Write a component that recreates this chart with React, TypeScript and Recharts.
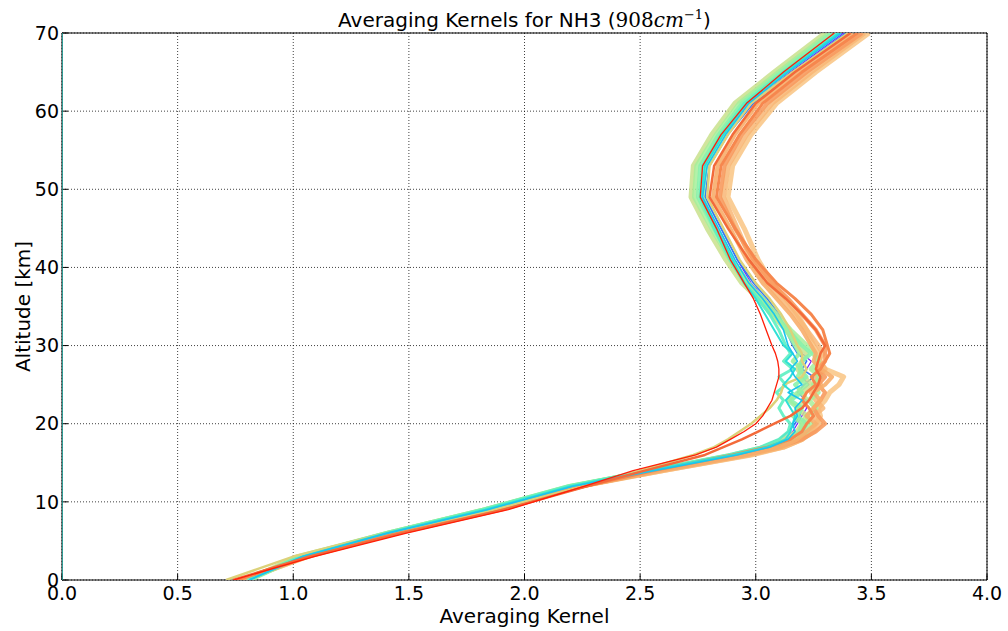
import React from 'react';
import { ScatterChart, Scatter, XAxis, YAxis, CartesianGrid, Label } from 'recharts';

// Altitude levels [km]
const ALT = [0, 3, 6, 9, 12, 14, 16, 17, 18, 19, 20, 21, 22, 23, 24, 25, 26, 27, 28, 29, 30, 32, 34, 36, 38, 41, 45, 49, 53, 57, 61, 65, 70];

const X_TICKS = [0, 0.5, 1, 1.5, 2, 2.5, 3, 3.5, 4];
const Y_TICKS = [0, 10, 20, 30, 40, 50, 60, 70];

// Averaging kernel values per altitude level (one array per kernel)
const kZero = [0, 0, 0, 0, 0, 0, 0, 0, 0, 0, 0, 0, 0, 0, 0, 0, 0, 0, 0, 0, 0, 0, 0, 0, 0, 0, 0, 0, 0, 0, 0, 0, 0];
const kPurple = [0.81, 1.05, 1.42, 1.85, 2.22, 2.56, 2.90, 3.04, 3.12, 3.16, 3.18, 3.20, 3.22, 3.21, 3.19, 3.23, 3.20, 3.22, 3.24, 3.20, 3.18, 3.14, 3.09, 3.04, 2.98, 2.92, 2.85, 2.78, 2.80, 2.88, 2.98, 3.15, 3.38];
const kBlue = [0.82, 1.05, 1.42, 1.84, 2.22, 2.55, 2.88, 3.02, 3.10, 3.14, 3.17, 3.19, 3.20, 3.22, 3.18, 3.21, 3.25, 3.20, 3.22, 3.18, 3.16, 3.13, 3.10, 3.05, 2.99, 2.92, 2.85, 2.78, 2.80, 2.88, 2.99, 3.16, 3.39];
const kCyan = [0.81, 1.04, 1.41, 1.84, 2.21, 2.56, 2.92, 3.06, 3.14, 3.17, 3.16, 3.18, 3.17, 3.20, 3.14, 3.20, 3.17, 3.15, 3.18, 3.16, 3.14, 3.12, 3.08, 3.03, 2.97, 2.91, 2.84, 2.77, 2.79, 2.87, 2.97, 3.14, 3.37];
const kTurquoise = [0.81, 1.04, 1.40, 1.83, 2.20, 2.54, 2.90, 3.05, 3.13, 3.15, 3.16, 3.17, 3.15, 3.13, 3.16, 3.12, 3.15, 3.17, 3.13, 3.16, 3.12, 3.08, 3.04, 3.00, 2.95, 2.90, 2.83, 2.765, 2.78, 2.86, 2.96, 3.13, 3.36];
const kAqua = [0.80, 1.03, 1.40, 1.82, 2.19, 2.53, 2.88, 3.02, 3.10, 3.14, 3.15, 3.12, 3.10, 3.12, 3.09, 3.13, 3.10, 3.16, 3.12, 3.15, 3.13, 3.10, 3.06, 3.01, 2.95, 2.89, 2.82, 2.76, 2.77, 2.85, 2.95, 3.12, 3.35];
const kMint = [0.80, 1.03, 1.40, 1.82, 2.19, 2.54, 2.90, 3.05, 3.14, 3.20, 3.22, 3.18, 3.20, 3.15, 3.20, 3.17, 3.22, 3.19, 3.20, 3.24, 3.20, 3.14, 3.08, 3.02, 2.96, 2.89, 2.82, 2.75, 2.76, 2.84, 2.94, 3.11, 3.33];
const kLightGreen = [0.81, 1.03, 1.41, 1.83, 2.20, 2.56, 2.93, 3.08, 3.16, 3.22, 3.24, 3.22, 3.26, 3.23, 3.27, 3.25, 3.28, 3.24, 3.27, 3.25, 3.22, 3.15, 3.09, 3.03, 2.96, 2.89, 2.81, 2.735, 2.745, 2.83, 2.93, 3.10, 3.32];
const kGreen = [0.80, 1.04, 1.41, 1.83, 2.20, 2.55, 2.92, 3.07, 3.15, 3.19, 3.20, 3.16, 3.18, 3.14, 3.18, 3.22, 3.18, 3.20, 3.16, 3.19, 3.17, 3.13, 3.08, 3.03, 2.97, 2.90, 2.83, 2.77, 2.785, 2.86, 2.96, 3.13, 3.36];
const kYellowGreen = [0.80, 1.02, 1.41, 1.83, 2.21, 2.55, 2.90, 3.04, 3.12, 3.18, 3.20, 3.22, 3.18, 3.22, 3.20, 3.24, 3.21, 3.18, 3.20, 3.22, 3.19, 3.13, 3.07, 3.01, 2.94, 2.87, 2.79, 2.72, 2.73, 2.81, 2.91, 3.08, 3.30];
const kKhaki = [0.71, 1.00, 1.40, 1.86, 2.26, 2.50, 2.73, 2.82, 2.88, 2.93, 2.98, 3.02, 3.06, 3.09, 3.11, 3.12, 3.20, 3.22, 3.20, 3.20, 3.18, 3.15, 3.11, 3.06, 3.00, 2.93, 2.86, 2.79, 2.80, 2.88, 2.98, 3.16, 3.40];
const kPaleOrange = [0.78, 1.06, 1.44, 1.87, 2.24, 2.60, 2.98, 3.12, 3.20, 3.24, 3.26, 3.28, 3.27, 3.30, 3.32, 3.36, 3.38, 3.30, 3.28, 3.27, 3.25, 3.22, 3.18, 3.13, 3.07, 3.01, 2.95, 2.88, 2.90, 2.98, 3.09, 3.26, 3.49];
const kLightOrange = [0.78, 1.06, 1.43, 1.86, 2.23, 2.60, 2.97, 3.12, 3.20, 3.25, 3.28, 3.25, 3.29, 3.26, 3.24, 3.28, 3.26, 3.30, 3.27, 3.29, 3.27, 3.22, 3.17, 3.11, 3.05, 2.98, 2.92, 2.86, 2.88, 2.96, 3.07, 3.24, 3.47];
const kApricot = [0.77, 1.06, 1.44, 1.87, 2.25, 2.59, 2.96, 3.11, 3.18, 3.22, 3.26, 3.22, 3.25, 3.28, 3.25, 3.30, 3.33, 3.28, 3.25, 3.26, 3.24, 3.20, 3.15, 3.09, 3.03, 2.96, 2.89, 2.815, 2.835, 2.91, 3.01, 3.18, 3.42];
const kOrange = [0.77, 1.06, 1.43, 1.87, 2.25, 2.58, 2.95, 3.10, 3.20, 3.26, 3.30, 3.27, 3.25, 3.28, 3.30, 3.27, 3.30, 3.27, 3.30, 3.30, 3.30, 3.26, 3.20, 3.14, 3.07, 2.99, 2.91, 2.845, 2.865, 2.94, 3.05, 3.22, 3.46];
const kDeepOrange = [0.76, 1.07, 1.45, 1.88, 2.26, 2.56, 2.90, 3.05, 3.15, 3.20, 3.22, 3.25, 3.23, 3.20, 3.22, 3.26, 3.24, 3.28, 3.30, 3.32, 3.31, 3.29, 3.24, 3.17, 3.09, 3.00, 2.91, 2.83, 2.85, 2.93, 3.03, 3.20, 3.44];
const kRedOrange = [0.74, 1.07, 1.47, 1.91, 2.27, 2.52, 2.78, 2.86, 2.94, 3.01, 3.08, 3.15, 3.20, 3.23, 3.25, 3.27, 3.28, 3.26, 3.27, 3.28, 3.30, 3.26, 3.20, 3.13, 3.05, 2.97, 2.88, 2.80, 2.82, 2.90, 3.00, 3.17, 3.41];
const kRed = [0.74, 1.09, 1.49, 1.93, 2.26, 2.47, 2.74, 2.83, 2.89, 2.95, 3.00, 3.03, 3.05, 3.07, 3.08, 3.09, 3.10, 3.10, 3.095, 3.085, 3.07, 3.045, 3.02, 2.99, 2.95, 2.89, 2.83, 2.76, 2.77, 2.85, 2.96, 3.12, 3.34];

const SERIES = [
  { id: 'purple', values: kPurple, color: '#7a1cff', width: 1.2, opacity: 1 },
  { id: 'blue', values: kBlue, color: '#2f7cf6', width: 1.6, opacity: 1 },
  { id: 'paleOrange', values: kPaleOrange, color: '#f9c483', width: 5, opacity: 0.85 },
  { id: 'lightOrange', values: kLightOrange, color: '#f8b676', width: 5, opacity: 0.85 },
  { id: 'yellowGreen', values: kYellowGreen, color: '#c9e08c', width: 5, opacity: 0.85 },
  { id: 'lightGreen', values: kLightGreen, color: '#a6ee9a', width: 5, opacity: 0.85 },
  { id: 'mint', values: kMint, color: '#88f2ac', width: 4, opacity: 0.9 },
  { id: 'green', values: kGreen, color: '#9cf0a0', width: 4, opacity: 0.9 },
  { id: 'orange', values: kOrange, color: '#f79a5e', width: 4, opacity: 0.9 },
  { id: 'apricot', values: kApricot, color: '#f7ad6a', width: 4, opacity: 0.9 },
  { id: 'aqua', values: kAqua, color: '#5cf0c2', width: 3, opacity: 0.9 },
  { id: 'deepOrange', values: kDeepOrange, color: '#f6874e', width: 3, opacity: 1 },
  { id: 'khaki', values: kKhaki, color: '#dcd27a', width: 2.5, opacity: 1 },
  { id: 'turquoise', values: kTurquoise, color: '#2fe0d6', width: 2, opacity: 1 },
  { id: 'cyan', values: kCyan, color: '#1bc4ee', width: 1.6, opacity: 1 },
  { id: 'redOrange', values: kRedOrange, color: '#f36a3a', width: 2.5, opacity: 1 },
  { id: 'red', values: kRed, color: '#ff1e08', width: 1.3, opacity: 1 },
  { id: 'zero', values: kZero, color: '#1aa8a0', width: 1.5, opacity: 1 },
];

const toPoints = (vals: number[]) => vals.map((v, i) => ({ x: v, y: ALT[i] }));

const NoShape = () => null;

const FONT = 'DejaVu Sans';
const tickStyle = { fontSize: 19, fill: '#000', fontFamily: FONT };

export default function App() {
  return (
    <div style={{ position: 'absolute', left: 0, top: 0, width: 1008, height: 631, background: '#fff' }}>
      <ScatterChart width={1008} height={631} margin={{ top: 32, right: 20, bottom: 0, left: 0 }}>
        <CartesianGrid stroke="#000" strokeOpacity={0.75} strokeDasharray="1 2" />
        <XAxis
          type="number"
          dataKey="x"
          domain={[0, 4]}
          ticks={X_TICKS}
          allowDataOverflow
          height={51}
          tickSize={-6}
          tickMargin={13}
          tick={tickStyle}
          tickFormatter={(v: number) => v.toFixed(1)}
          stroke="#000"
          axisLine={{ stroke: '#000', strokeWidth: 1 }}
          tickLine={{ stroke: '#000' }}
        >
          <Label value="Averaging Kernel" position="insideBottom" offset={8} fontSize={20} fill="#000" fontFamily={FONT} />
        </XAxis>
        <YAxis
          type="number"
          dataKey="y"
          domain={[0, 70]}
          ticks={Y_TICKS}
          allowDataOverflow
          width={62}
          tickSize={-6}
          tickMargin={9}
          tick={tickStyle}
          stroke="#000"
          axisLine={{ stroke: '#000', strokeWidth: 1 }}
          tickLine={{ stroke: '#000' }}
        >
          <Label
            value="Altitude [km]"
            position="insideLeft"
            angle={-90}
            offset={23}
            fontSize={20}
            fill="#000"
            fontFamily={FONT}
            textAnchor="middle"
            style={{ textAnchor: 'middle' }}
          />
        </YAxis>
        <XAxis
          xAxisId="top"
          orientation="top"
          type="number"
          domain={[0, 4]}
          ticks={X_TICKS}
          allowDataOverflow
          height={1}
          tick={false}
          tickSize={-6}
          stroke="#000"
          axisLine={{ stroke: '#000', strokeWidth: 1 }}
          tickLine={{ stroke: '#000' }}
        />
        <YAxis
          yAxisId="right"
          orientation="right"
          type="number"
          domain={[0, 70]}
          ticks={Y_TICKS}
          allowDataOverflow
          width={1}
          tick={false}
          tickSize={-6}
          stroke="#000"
          axisLine={{ stroke: '#000', strokeWidth: 1 }}
          tickLine={{ stroke: '#000' }}
        />
        {SERIES.map((s) => (
          <Scatter
            key={s.id}
            data={toPoints(s.values)}
            fill={s.color}
            shape={NoShape}
            line={{ stroke: s.color, strokeWidth: s.width, strokeOpacity: s.opacity, strokeLinejoin: 'round' }}
            lineType="joint"
            isAnimationActive={false}
          />
        ))}
      </ScatterChart>
      <svg width={1008} height={40} style={{ position: 'absolute', left: 0, top: 0, pointerEvents: 'none' }}>
        <text x={524.5} y={27} textAnchor="middle" fontFamily={FONT} fontSize={20} fill="#000">
          Averaging Kernels for NH3 (
          <tspan fontFamily="DejaVu Serif">908</tspan>
          <tspan fontFamily="DejaVu Serif" fontStyle="italic">cm</tspan>
          <tspan fontFamily="DejaVu Serif" fontSize={13} dy={-8}>−1</tspan>
          <tspan dy={8}>)</tspan>
        </text>
      </svg>
    </div>
  );
}
